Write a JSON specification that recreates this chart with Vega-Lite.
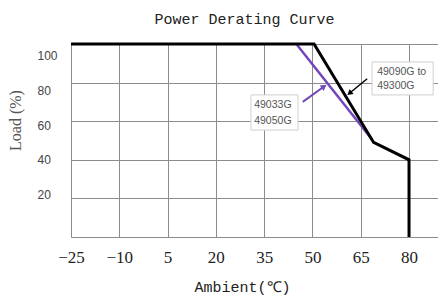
{
  "$schema": "https://vega.github.io/schema/vega-lite/v6.json",
  "width": 367,
  "height": 193,
  "autosize": "none",
  "padding": {"left": 71, "top": 44, "right": 0, "bottom": 58},
  "background": "white",
  "title": {"text": "Power Derating Curve", "font": "Liberation Mono", "fontSize": 15, "fontWeight": "normal", "color": "#222", "baseline": "alphabetic", "offset": -1, "dx": -10},
  "config": {"view": {"stroke": "#8c8c8c", "strokeWidth": 1}},
  "datasets": {
    "black": [
      {"order": 1, "ambient": -25, "load": 100},
      {"order": 2, "ambient": 50.5, "load": 100},
      {"order": 3, "ambient": 69, "load": 49},
      {"order": 4, "ambient": 80, "load": 40},
      {"order": 5, "ambient": 80, "load": 0}
    ],
    "purple": [
      {"order": 1, "ambient": 45, "load": 100},
      {"order": 2, "ambient": 68.5, "load": 50.5}
    ],
    "barrow": [
      {"order": 1, "ambient": 67, "load": 82},
      {"order": 2, "ambient": 61.5, "load": 74.5}
    ],
    "parrow": [
      {"order": 1, "ambient": 47, "load": 70},
      {"order": 2, "ambient": 53.6, "load": 78}
    ],
    "boxes": [
      {"ambient": 30.9, "ambient2": 45.5, "load": 73.6, "load2": 55.4},
      {"ambient": 68.5, "ambient2": 87.5, "load": 90.7, "load2": 73.6}
    ],
    "notes": [
      {"ambient": 31.9, "load": 68.4, "text": "49033G"},
      {"ambient": 31.9, "load": 60.1, "text": "49050G"},
      {"ambient": 70.1, "load": 85.5, "text": "49090G to"},
      {"ambient": 70.1, "load": 78.2, "text": "49300G"}
    ]
  },
  "layer": [
    {
      "data": {"name": "boxes"},
      "mark": {"type": "rect", "fill": "white", "stroke": "#cfcfcf", "strokeWidth": 1},
      "encoding": {
        "x": {"field": "ambient", "type": "quantitative", "scale": {"domain": [-25, 89], "nice": false, "zero": false},
          "axis": {"values": [-25, -10, 5, 20, 35, 50, 65, 80], "grid": true, "gridColor": "#8c8c8c", "ticks": false, "domain": false, "labelFlush": false, "labelOverlap": false, "labelFont": "Liberation Serif", "labelFontSize": 17, "labelColor": "#222", "labelPadding": 12, "title": "Ambient(℃)", "titleFont": "Liberation Mono", "titleFontSize": 15, "titleFontWeight": "normal", "titleColor": "#222", "titleX": 171, "titleY": 49, "titleBaseline": "middle", "titleAlign": "center"}},
        "x2": {"field": "ambient2"},
        "y": {"field": "load", "type": "quantitative", "scale": {"domain": [0, 100], "nice": false, "zero": false},
          "axis": {"values": [20, 40, 60, 80, 100], "grid": true, "gridColor": "#8c8c8c", "ticks": false, "domain": false, "labelFlush": false, "labelOverlap": false, "labelAlign": "left", "labelBaseline": "middle", "labelPadding": 34, "labelFont": "Liberation Sans", "labelFontSize": 12, "labelColor": "#444",
            "labelOffset": {"condition": [{"test": "datum.value == 100", "value": 11}, {"test": "datum.value == 80", "value": 8}, {"test": "datum.value == 60", "value": 4}, {"test": "datum.value == 20", "value": -3.5}], "value": 0},
            "title": "Load (%)", "titleFont": "Liberation Serif", "titleFontSize": 16, "titleFontWeight": "normal", "titleColor": "#555", "titleX": -56, "titleY": 76, "titleAngle": -90, "titleBaseline": "middle", "titleAlign": "center"}},
        "y2": {"field": "load2"}
      }
    },
    {
      "data": {"name": "purple"},
      "mark": {"type": "line", "color": "#7447b8", "strokeWidth": 2.5},
      "encoding": {
        "x": {"field": "ambient", "type": "quantitative"},
        "y": {"field": "load", "type": "quantitative"},
        "order": {"field": "order"}
      }
    },
    {
      "data": {"name": "black"},
      "mark": {"type": "line", "color": "#000", "strokeWidth": 3},
      "encoding": {
        "x": {"field": "ambient", "type": "quantitative"},
        "y": {"field": "load", "type": "quantitative"},
        "order": {"field": "order"}
      }
    },
    {
      "data": {"name": "barrow"},
      "mark": {"type": "line", "color": "#000", "strokeWidth": 1.5},
      "encoding": {
        "x": {"field": "ambient", "type": "quantitative"},
        "y": {"field": "load", "type": "quantitative"},
        "order": {"field": "order"}
      }
    },
    {
      "data": {"name": "barrow"},
      "transform": [{"filter": "datum.order == 2"}],
      "mark": {"type": "point", "shape": "triangle-up", "filled": true, "color": "#000", "size": 40, "opacity": 1, "angle": 232},
      "encoding": {
        "x": {"field": "ambient", "type": "quantitative"},
        "y": {"field": "load", "type": "quantitative"}
      }
    },
    {
      "data": {"name": "parrow"},
      "mark": {"type": "line", "color": "#7447b8", "strokeWidth": 2},
      "encoding": {
        "x": {"field": "ambient", "type": "quantitative"},
        "y": {"field": "load", "type": "quantitative"},
        "order": {"field": "order"}
      }
    },
    {
      "data": {"name": "parrow"},
      "transform": [{"filter": "datum.order == 2"}],
      "mark": {"type": "point", "shape": "triangle-up", "filled": true, "color": "#7447b8", "size": 45, "opacity": 1, "angle": 53},
      "encoding": {
        "x": {"field": "ambient", "type": "quantitative"},
        "y": {"field": "load", "type": "quantitative"}
      }
    },
    {
      "data": {"name": "notes"},
      "mark": {"type": "text", "align": "left", "baseline": "middle", "font": "Liberation Sans", "fontSize": 10.5, "color": "#555"},
      "encoding": {
        "x": {"field": "ambient", "type": "quantitative"},
        "y": {"field": "load", "type": "quantitative"},
        "text": {"field": "text"}
      }
    }
  ]
}
